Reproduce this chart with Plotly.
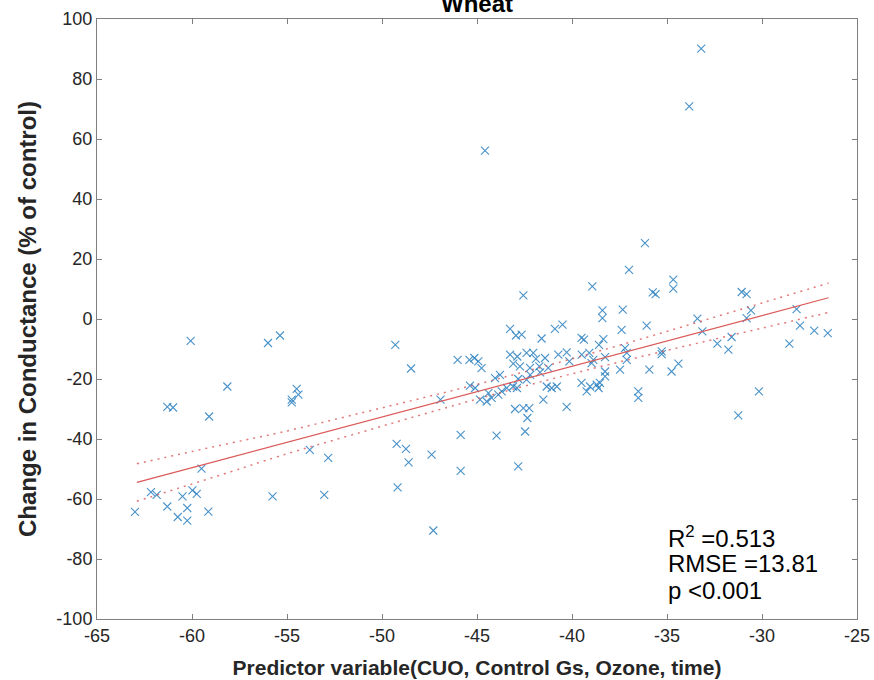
import plotly.graph_objects as go

# Predictor variable (x) and change in conductance (y), one entry per observation
predictor = [
    -63.0, -62.16, -61.86, -61.3, -60.5, -59.98, -59.75, -60.25, -60.75, -60.25,
    -59.14, -59.5, -55.76, -61.3, -61.0, -59.1, -58.14, -60.07, -56.0, -55.37,
    -54.49, -54.4, -54.75, -54.75, -53.8, -52.83, -53.04, -49.3, -48.47, -49.23,
    -48.74, -48.6, -47.39, -49.18, -47.3, -46.92, -45.86, -45.86, -46.02, -45.4,
    -45.14, -44.93, -44.76, -45.37, -45.1, -44.84, -44.49, -44.23, -44.4, -43.7,
    -43.43, -43.88, -44.58, -43.97, -42.83, -42.47, -42.35, -43.0, -42.56, -42.25,
    -41.51, -40.28, -43.1, -42.9, -41.33, -41.07, -40.8, -43.79, -44.05, -42.39,
    -42.2, -42.83, -43.26, -42.88, -42.39, -42.04, -41.9, -41.42, -43.09, -42.74,
    -42.21, -41.72, -41.68, -41.25, -40.72, -40.28, -40.14, -39.49, -39.09, -38.88,
    -38.26, -38.97, -42.56, -43.26, -42.95, -42.65, -40.9, -40.5, -41.6, -39.5,
    -39.37, -38.35, -38.58, -38.93, -38.4, -38.4, -39.5, -39.23, -39.05, -38.7,
    -38.53, -38.26, -37.0, -36.16, -34.67, -34.67, -35.75, -35.6, -37.33, -37.39,
    -36.07, -33.4, -33.14, -32.35, -37.21, -37.12, -37.12, -37.47, -35.28, -35.28,
    -35.93, -34.76, -34.4, -36.51, -36.51, -33.83, -33.2, -31.07, -30.81, -30.58,
    -30.81, -31.6, -31.77, -28.18, -28.0, -27.25, -26.54, -28.56, -30.16, -31.25,
    -38.6, -38.26,
]
conductance_change = [
    -64.3, -57.7, -58.6, -62.5, -59.1, -57.1, -58.3, -63.0, -66.0, -67.2,
    -64.2, -49.9, -59.1, -29.3, -29.5, -32.5, -22.5, -7.3, -8.0, -5.5,
    -23.3, -25.2, -26.9, -27.8, -43.6, -46.3, -58.6, -8.6, -16.5, -41.6,
    -43.3, -47.8, -45.2, -56.1, -70.5, -26.9, -38.6, -50.6, -13.6, -13.6,
    -13.0, -14.1, -16.4, -22.2, -23.0, -26.9, -27.5, -26.3, -24.7, -24.1,
    -23.0, -25.2, 56.1, -38.9, -49.1, -37.5, -33.0, -30.0, -29.7, -29.7,
    -26.9, -29.3, -22.5, -23.0, -22.5, -23.0, -22.5, -18.6, -19.7, -20.2,
    -18.6, -20.0, -11.9, -12.5, -11.3, -11.3, -13.3, -13.0, -14.9, -15.8,
    -16.3, -15.8, -17.8, -16.3, -11.9, -11.1, -14.1, -11.9, -11.3, -13.6,
    -12.7, -14.7, 7.9, -3.3, -5.5, -5.2, -3.3, -1.9, -6.5, -6.3,
    -6.9, -6.7, -8.6, 10.9, 2.9, 0.3, -21.3, -24.1, -22.5, -21.9,
    -21.3, -19.1, 16.4, 25.3, 13.1, 10.1, 8.9, 8.3, 3.1, -3.6,
    -2.2, 0.1, -4.1, -8.2, -9.7, -11.3, -13.6, -16.9, -10.8, -11.7,
    -16.9, -17.5, -14.9, -24.1, -26.3, 70.9, 90.1, 9.0, 8.3, 2.9,
    0.3, -6.0, -10.2, 3.3, -2.2, -3.9, -4.7, -8.2, -24.1, -32.1,
    -23.0, -17.5,
]

# Linear fit and its confidence bounds
fit_slope = 1.691
fit_intercept = 51.88
fit_x = [-62.9, -26.5]
band_x = [-62.9, -58.0, -55.4, -51.0, -47.5, -44.0, -40.0, -36.0, -33.3, -30.0, -26.5]
band_half = [6.25, 4.8, 3.9, 3.2, 2.7, 2.4, 2.5, 3.0, 3.5, 4.2, 4.9]

# Goodness-of-fit statistics
r_squared = "0.513"
rmse = "13.81"
p_text = "p <0.001"

x_ticks = [-65, -60, -55, -50, -45, -40, -35, -30, -25]
y_ticks = [-100, -80, -60, -40, -20, 0, 20, 40, 60, 80, 100]

fit_y = [fit_slope * x + fit_intercept for x in fit_x]
band_center = [fit_slope * x + fit_intercept for x in band_x]
band_upper = [c + h for c, h in zip(band_center, band_half)]
band_lower = [c - h for c, h in zip(band_center, band_half)]

blue = "#2A80C0"
red = "#DC5858"
axis_grey = "#7F7F7F"
text_col = "#262626"
font_family = "Liberation Sans, Arial, Helvetica, sans-serif"

fig = go.Figure()
fig.add_trace(go.Scatter(
    x=predictor, y=conductance_change, mode="markers",
    marker=dict(symbol="x-thin", size=8, color=blue, opacity=0.85,
                line=dict(width=1.1, color=blue)),
    showlegend=False, hoverinfo="x+y",
))
fig.add_trace(go.Scatter(
    x=fit_x, y=fit_y, mode="lines",
    line=dict(color=red, width=1.2), showlegend=False,
))
for yb in (band_upper, band_lower):
    fig.add_trace(go.Scatter(
        x=band_x, y=yb, mode="lines",
        line=dict(color=red, width=1.5, dash="2px,5px", shape="spline"),
        opacity=0.8, showlegend=False,
    ))

axis_common = dict(
    showgrid=False, zeroline=False, showline=True, linecolor=axis_grey,
    linewidth=1, mirror="ticks", ticks="inside", ticklen=5, tickcolor=axis_grey,
    tickfont=dict(family=font_family, size=18, color=text_col),
    automargin=False,
)
fig.update_xaxes(
    range=[-65, -25], tickvals=x_ticks, ticktext=[str(v) for v in x_ticks],
    title=dict(text="<b>Predictor variable(CUO, Control Gs, Ozone, time)</b>",
               font=dict(family=font_family, size=21, color=text_col), standoff=15),
    **axis_common,
)
fig.update_yaxes(
    range=[-100, 100], tickvals=y_ticks, ticktext=[str(v) for v in y_ticks],
    title=dict(text="<b>Change in Conductance (% of control)</b>",
               font=dict(family=font_family, size=24, color=text_col), standoff=12),
    **axis_common,
)

stats_font = dict(family=font_family, size=24, color="#000000")
stats_x = -35.05
fig.add_annotation(x=stats_x, y=-72.5, xref="x", yref="y", xanchor="left", yanchor="middle",
                   text=f"R<sup>2</sup> =" + r_squared, showarrow=False, font=stats_font)
fig.add_annotation(x=stats_x, y=-81.5, xref="x", yref="y", xanchor="left", yanchor="middle",
                   text="RMSE =" + rmse, showarrow=False, font=stats_font)
fig.add_annotation(x=stats_x, y=-90.5, xref="x", yref="y", xanchor="left", yanchor="middle",
                   text=p_text, showarrow=False, font=stats_font)

# Panel title sits just above the frame
fig.add_annotation(x=0.5, y=1.0, xref="paper", yref="paper", xanchor="center",
                   yanchor="bottom", yshift=0, text="<b>Wheat</b>", showarrow=False,
                   font=dict(family=font_family, size=24, color="#000000"))

fig.update_layout(
    width=874, height=680,
    margin=dict(l=97, r=17, t=19, b=61),
    paper_bgcolor="white", plot_bgcolor="white",
)

fig.write_html("out.html")
